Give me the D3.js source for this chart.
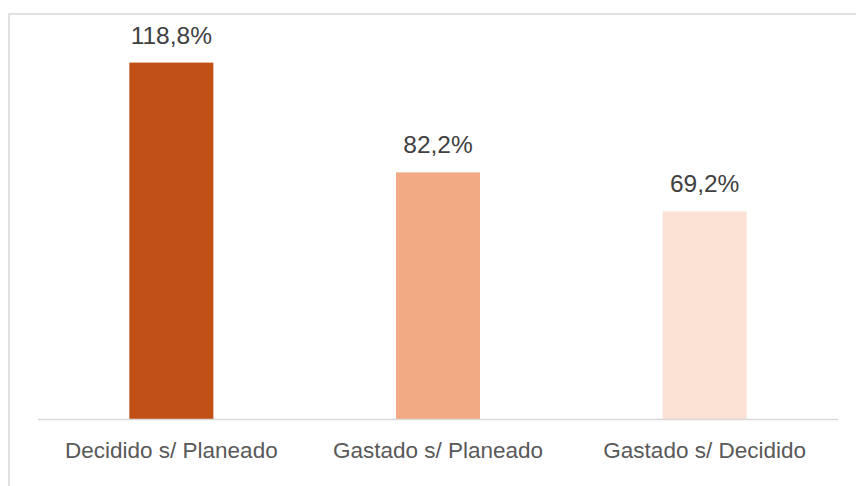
<!DOCTYPE html>
<html>
<head>
<meta charset="utf-8">
<script src="https://cdn.jsdelivr.net/npm/d3@7"></script>
<style>
  html, body { margin: 0; padding: 0; background: #fff; }
  svg { display: block; }
  text { font-family: "Liberation Sans", Arial, sans-serif; }
</style>
</head>
<body>
<svg id="chart" width="856" height="486"></svg>
<script>
const categories = ["Decidido s/ Planeado", "Gastado s/ Planeado", "Gastado s/ Decidido"];
const values = [118.8, 82.2, 69.2];
const valueLabels = ["118,8%", "82,2%", "69,2%"];
const barColors = ["#C05015", "#F1AA84", "#FAE1D4"];

const svg = d3.select("#chart");
const W = 856, H = 486;

// chart border
svg.append("rect")
  .attr("x", 9).attr("y", 14)
  .attr("width", 870).attr("height", 490)
  .attr("fill", "#fff")
  .attr("stroke", "#D9D9D9")
  .attr("stroke-width", 1.6);

const plot = { left: 38, right: 838, top: 59, bottom: 419 };

const x = d3.scaleBand()
  .domain(categories)
  .range([plot.left, plot.right])
  .paddingInner(0.685)
  .paddingOuter(0.3425);

const y = d3.scaleLinear()
  .domain([0, 120])
  .range([plot.bottom, plot.top]);

const data = categories.map((c, i) => ({ c, v: values[i], label: valueLabels[i], color: barColors[i] }));

svg.selectAll("rect.bar")
  .data(data)
  .enter().append("rect")
  .attr("class", "bar")
  .attr("x", d => x(d.c))
  .attr("y", d => y(d.v))
  .attr("width", x.bandwidth())
  .attr("height", d => y(0) - y(d.v))
  .attr("fill", d => d.color);

// x axis
const xAxis = d3.axisBottom(x).tickSize(0).tickPadding(0);
const gx = svg.append("g")
  .attr("transform", `translate(0,${plot.bottom})`)
  .call(xAxis);
gx.select(".domain").attr("stroke", "#D9D9D9").attr("stroke-width", 1.5)
  .attr("d", `M${plot.left},0.5H${plot.right}`);
gx.selectAll(".tick text")
  .attr("y", 39)
  .attr("dy", 0)
  .attr("fill", "#595959")
  .style("font-size", "22.5px")
  .style("font-family", "'Liberation Sans', Arial, sans-serif");

// value labels
svg.selectAll("text.val")
  .data(data)
  .enter().append("text")
  .attr("class", "val")
  .attr("x", d => x(d.c) + x.bandwidth() / 2)
  .attr("y", d => y(d.v) - 19)
  .attr("text-anchor", "middle")
  .attr("fill", "#404040")
  .style("font-size", "24.5px")
  .text(d => d.label);
</script>
</body>
</html>
